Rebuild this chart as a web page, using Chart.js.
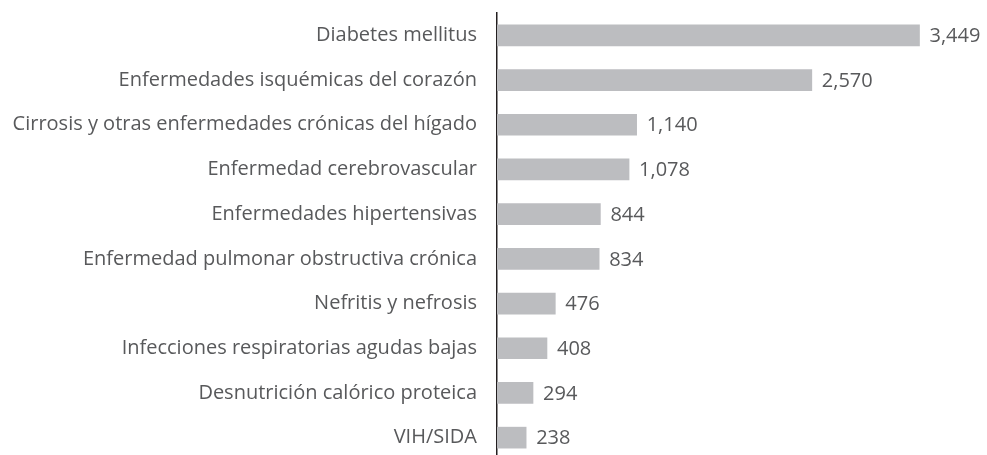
<!DOCTYPE html>
<html>
<head>
<meta charset="utf-8">
<script src="https://cdn.jsdelivr.net/npm/chart.js@4/dist/chart.umd.min.js"></script>
<style>
  html, body { margin:0; padding:0; background:#fff; overflow:hidden; }
  #wrap { position:relative; width:987px; height:460px; }
</style>
</head>
<body>
<div id="wrap"><canvas id="myChart"></canvas></div>
<script>
const causes = [
  'Diabetes mellitus',
  'Enfermedades isquémicas del corazón',
  'Cirrosis y otras enfermedades crónicas del hígado',
  'Enfermedad cerebrovascular',
  'Enfermedades hipertensivas',
  'Enfermedad pulmonar obstructiva crónica',
  'Nefritis y nefrosis',
  'Infecciones respiratorias agudas bajas',
  'Desnutrición calórico proteica',
  'VIH/SIDA'
];
const deaths = [3449, 2570, 1140, 1078, 844, 834, 476, 408, 294, 238];
const x_max = 4000;

const font_family = "'Open Sans', sans-serif";
const text_color = '#58595b';
const bar_color = '#bcbdc0';

// draws the number at the end of each bar
const valueLabels = {
  id: 'valueLabels',
  afterDatasetsDraw(chart) {
    const ctx = chart.ctx;
    const meta = chart.getDatasetMeta(0);
    ctx.save();
    ctx.font = '20px ' + font_family;
    ctx.fillStyle = text_color;
    ctx.textAlign = 'left';
    ctx.textBaseline = 'middle';
    meta.data.forEach(function(bar, i) {
      ctx.fillText(deaths[i].toLocaleString('en-US'), bar.x + 10, bar.y + 1);
    });
    ctx.restore();
  }
};

const ctx = document.getElementById('myChart').getContext('2d');
const myChart = new Chart(ctx, {
  type: 'bar',
  data: {
    labels: causes,
    datasets: [{
      data: deaths,
      backgroundColor: bar_color,
      borderWidth: 0,
      barThickness: 21
    }]
  },
  options: {
    indexAxis: 'y',
    responsive: true,
    maintainAspectRatio: false,
    animation: false,
    layout: { padding: { top: 13, right: 0, bottom: 0, left: 0 } },
    plugins: {
      legend: { display: false },
      tooltip: { enabled: false }
    },
    scales: {
      x: {
        display: false,
        min: 0,
        max: x_max
      },
      y: {
        afterFit: function(scale) {
          scale.width = 497;
          scale.paddingTop = 0;
          scale.paddingBottom = 0;
        },
        grid: { display: false, drawTicks: false },
        border: { display: true, color: '#231f20', width: 1.5 },
        ticks: {
          padding: 20,
          color: text_color,
          font: { family: font_family, size: 20 }
        }
      }
    }
  },
  plugins: [valueLabels]
});
</script>
</body>
</html>
